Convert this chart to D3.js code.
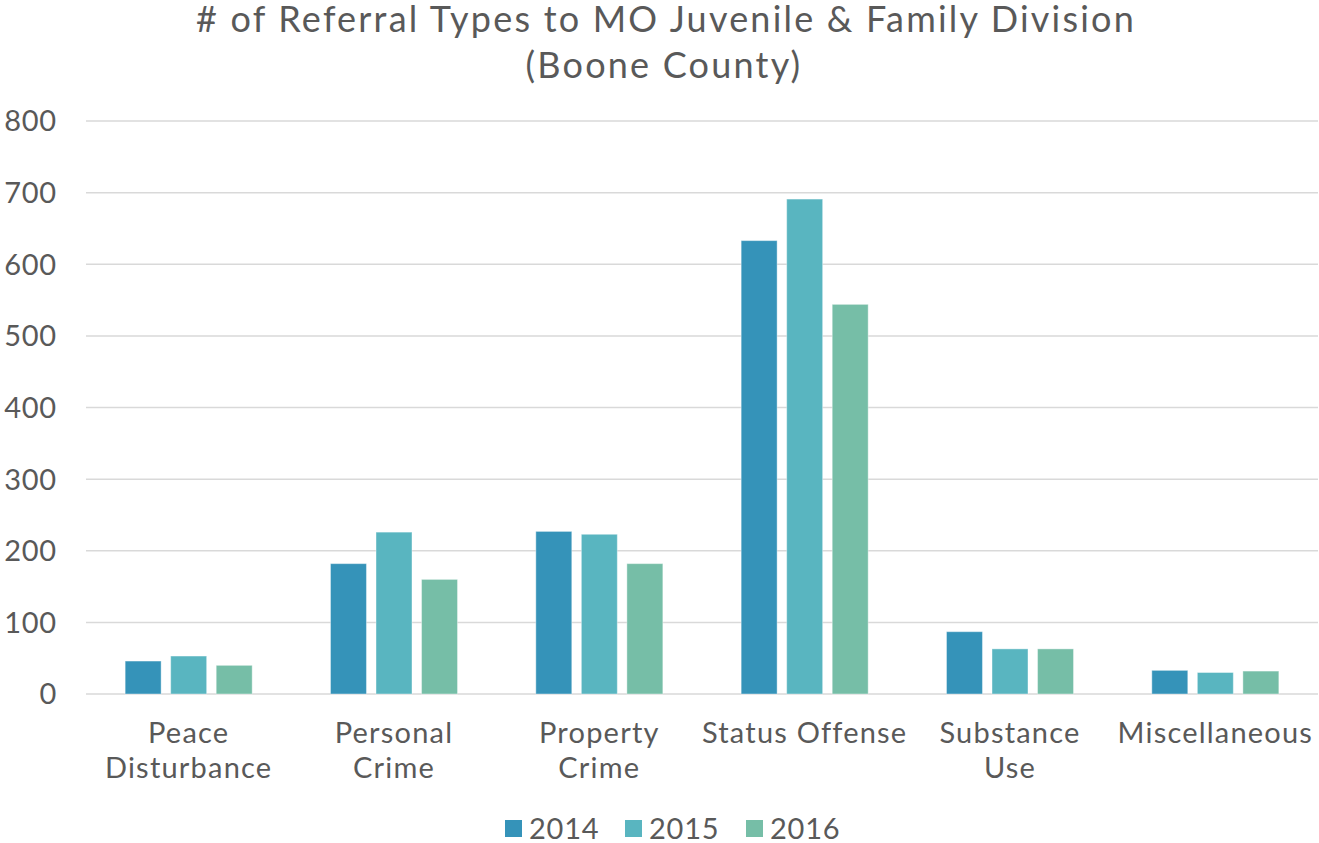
<!DOCTYPE html>
<html>
<head>
<meta charset="utf-8">
<script src="https://cdn.jsdelivr.net/npm/d3@7"></script>
<style>
  body { margin: 0; background: #fff; }
  text { font-family: "Lato", "Open Sans", sans-serif; fill: #595959; }
</style>
</head>
<body>
<svg width="1319" height="843"></svg>
<script>
const categories = [
  ["Peace", "Disturbance"],
  ["Personal", "Crime"],
  ["Property", "Crime"],
  ["Status Offense"],
  ["Substance", "Use"],
  ["Miscellaneous"]
];
const years = ["2014", "2015", "2016"];
const values2014 = [46, 182, 227, 633, 87, 33];
const values2015 = [53, 226, 223, 691, 63, 30];
const values2016 = [40, 160, 182, 544, 63, 32];
const yTicks = [0, 100, 200, 300, 400, 500, 600, 700, 800];
const colors = ["#3593b9", "#59b5c0", "#76bea7"];

const series = [values2014, values2015, values2016];
const svg = d3.select("svg");

const margin = { left: 86, right: 1318, top: 121, bottom: 694 };

const x = d3.scaleBand()
  .domain(d3.range(categories.length))
  .range([margin.left, margin.right]);

const xInner = d3.scaleBand()
  .domain(years)
  .range([0, x.bandwidth()])
  .paddingInner(0.21)
  .paddingOuter(0.86);

const y = d3.scaleLinear().domain([0, 800]).range([margin.bottom, margin.top]);

// Gridlines
svg.append("g")
  .selectAll("line")
  .data(yTicks)
  .join("line")
  .attr("x1", margin.left)
  .attr("x2", margin.right)
  .attr("y1", d => y(d))
  .attr("y2", d => y(d))
  .attr("stroke", "#d9d9d9")
  .attr("stroke-width", 1.5);

// Y labels
svg.append("g")
  .selectAll("text")
  .data(yTicks)
  .join("text")
  .attr("x", 57)
  .attr("y", d => y(d))
  .attr("dy", "0.36em")
  .attr("text-anchor", "end")
  .attr("font-size", 29)
  .attr("letter-spacing", 0.8)
  .text(d => d);

// Bars
const groups = svg.append("g")
  .selectAll("g")
  .data(categories.map((c, i) => i))
  .join("g")
  .attr("transform", i => `translate(${x(i)},0)`);

groups.selectAll("rect")
  .data(i => years.map((yr, k) => ({ yr, k, v: series[k][i] })))
  .join("rect")
  .attr("x", d => xInner(d.yr))
  .attr("width", xInner.bandwidth())
  .attr("y", d => y(d.v))
  .attr("height", d => y(0) - y(d.v))
  .attr("fill", d => colors[d.k])
  .attr("stroke", "#ffffff")
  .attr("stroke-opacity", 0.4)
  .attr("stroke-width", 1);

// Category labels
const catLabels = svg.append("g")
  .selectAll("text")
  .data(categories)
  .join("text")
  .attr("text-anchor", "middle")
  .attr("font-size", 29)
  .attr("letter-spacing", 1.2)
  .attr("transform", (d, i) => `translate(${x(i) + x.bandwidth() / 2},743)`);

catLabels.selectAll("tspan")
  .data(d => d)
  .join("tspan")
  .attr("x", 0)
  .attr("dy", (d, j) => j === 0 ? 0 : 35)
  .text(d => d);

// Title
svg.append("text")
  .attr("x", 666)
  .attr("y", 32)
  .attr("text-anchor", "middle")
  .attr("font-size", 36)
  .attr("letter-spacing", 2.2)
  .text("# of Referral Types to MO Juvenile & Family Division");
svg.append("text")
  .attr("x", 664)
  .attr("y", 78)
  .attr("text-anchor", "middle")
  .attr("font-size", 36)
  .attr("letter-spacing", 2.2)
  .text("(Boone County)");

// Legend
const legendX = [505, 625, 746];
const legend = svg.append("g")
  .selectAll("g")
  .data(years)
  .join("g")
  .attr("transform", (d, i) => `translate(${legendX[i]},820)`);
legend.append("rect")
  .attr("width", 17)
  .attr("height", 17)
  .attr("fill", (d, i) => colors[i]);
legend.append("text")
  .attr("x", 24)
  .attr("y", 9)
  .attr("dy", "0.36em")
  .attr("font-size", 29)
  .attr("letter-spacing", 0.8)
  .text(d => d);
</script>
</body>
</html>
